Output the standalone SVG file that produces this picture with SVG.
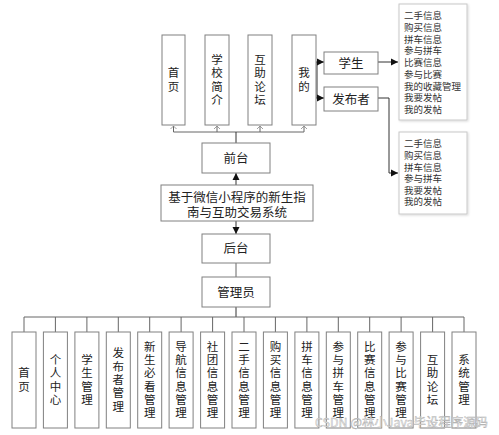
<svg xmlns="http://www.w3.org/2000/svg" width="499" height="435" viewBox="0 0 499 435">
<style>
.box{fill:#fff;stroke:#808080;stroke-width:1}
.lst{fill:#fff;stroke:#c8c8c8;stroke-width:1}
.t{font-family:"Noto Sans CJK SC","Liberation Sans",sans-serif;fill:#222;text-anchor:middle}
.v{font-size:11.5px}
.m{font-size:12.5px}
.l{font-family:"Noto Sans CJK SC","Liberation Sans",sans-serif;fill:#333;font-size:9.5px}
.ln{fill:none;stroke:#333;stroke-width:1}
.gl{fill:none;stroke:#666;stroke-width:1}
.wm{font-family:"Noto Sans CJK SC","Liberation Sans",sans-serif;font-size:12px;fill:#f4f4f4;stroke:#aaa;stroke-width:0.4}
</style>
<defs>
<marker id="ah" markerWidth="8" markerHeight="8" refX="7" refY="4" orient="auto" markerUnits="userSpaceOnUse"><path d="M0,0.5 L7,4 L0,7.5 Z" fill="#111"/></marker>
<marker id="ch" markerWidth="8" markerHeight="8" refX="4" refY="1" orient="0" markerUnits="userSpaceOnUse"><path d="M1,4 L4,1 L7,4" fill="none" stroke="#888" stroke-width="0.8"/></marker>
<filter id="sh" x="-10%" y="-10%" width="130%" height="130%"><feDropShadow dx="1" dy="1" stdDeviation="1" flood-color="#000" flood-opacity="0.15"/></filter>
</defs>

<g id="connectors">
<path class="gl" d="M173.5,132 H304"/>
<path class="gl" d="M173.5,132 V126" marker-end="url(#ch)"/>
<path class="gl" d="M217,132 V126" marker-end="url(#ch)"/>
<path class="gl" d="M260,132 V126" marker-end="url(#ch)"/>
<path class="gl" d="M304,132 V126" marker-end="url(#ch)"/>
<path class="ln" d="M236,132 V143"/>
<path class="ln" d="M317,62 V98"/>
<path class="ln" d="M316,62 H324" marker-end="url(#ah)"/>
<path class="ln" d="M316,98 H324" marker-end="url(#ah)"/>
<path class="ln" d="M378,62 H398" marker-end="url(#ah)"/>
<path class="ln" d="M378,98 H389 V173 H398" marker-end="url(#ah)"/>
<path class="ln" d="M236,185 V173" marker-end="url(#ah)"/>
<path class="ln" d="M236,221 V234" marker-end="url(#ah)"/>
<path class="gl" d="M236,263 V277"/>
<path class="ln" d="M236,307 V317"/>
<path class="gl" d="M24,317 H464"/>
<path class="gl" d="M24,317 V332 M55.4,317 V332 M86.9,317 V332 M118.3,317 V332 M149.7,317 V332 M181.1,317 V332 M212.6,317 V332 M244,317 V332 M275.4,317 V332 M306.9,317 V332 M338.3,317 V332 M369.7,317 V332 M401.1,317 V332 M432.6,317 V332 M464,317 V332"/>
</g>

<g id="n-shouye"><rect class="box" x="162" y="35" width="23" height="90"/><text class="t v" x="173.5" y="77.3">首</text><text class="t v" x="173.5" y="90.8">页</text></g>
<g id="n-xuexiao"><rect class="box" x="205" y="35" width="24" height="90"/><text class="t v" x="217" y="63.8">学</text><text class="t v" x="217" y="77.3">校</text><text class="t v" x="217" y="90.8">简</text><text class="t v" x="217" y="104.3">介</text></g>
<g id="n-huzhu"><rect class="box" x="248" y="35" width="24" height="90"/><text class="t v" x="260" y="63.8">互</text><text class="t v" x="260" y="77.3">助</text><text class="t v" x="260" y="90.8">论</text><text class="t v" x="260" y="104.3">坛</text></g>
<g id="n-wode"><rect class="box" x="292" y="35" width="24" height="90"/><text class="t v" x="304" y="77.3">我</text><text class="t v" x="304" y="90.8">的</text></g>

<g id="n-xuesheng"><rect class="box" x="324" y="52" width="54" height="22"/><text class="t m" x="351" y="67.5">学生</text></g>
<g id="n-fabuzhe"><rect class="box" x="324" y="87" width="54" height="24"/><text class="t m" x="351" y="103.5">发布者</text></g>

<g id="n-list1"><rect class="lst" x="399" y="4" width="68" height="116" filter="url(#sh)"/>
<text class="l" x="404" y="19.3">二手信息</text>
<text class="l" x="404" y="31">购买信息</text>
<text class="l" x="404" y="42.7">拼车信息</text>
<text class="l" x="404" y="54.4">参与拼车</text>
<text class="l" x="404" y="66.1">比赛信息</text>
<text class="l" x="404" y="77.8">参与比赛</text>
<text class="l" x="404" y="89.5">我的收藏管理</text>
<text class="l" x="404" y="101.2">我要发帖</text>
<text class="l" x="404" y="112.9">我的发帖</text>
</g>
<g id="n-list2"><rect class="lst" x="399" y="132" width="68" height="82" filter="url(#sh)"/>
<text class="l" x="404" y="147.3">二手信息</text>
<text class="l" x="404" y="158.9">购买信息</text>
<text class="l" x="404" y="170.5">拼车信息</text>
<text class="l" x="404" y="182.1">参与拼车</text>
<text class="l" x="404" y="193.7">我要发帖</text>
<text class="l" x="404" y="205.3">我的发帖</text>
</g>

<g id="n-qiantai"><rect class="box" x="202" y="143" width="68" height="30"/><text class="t m" x="236" y="162.5">前台</text></g>
<g id="n-main"><rect class="box" x="161" y="185" width="152" height="36"/><text class="t m" x="237" y="201.5">基于微信小程序的新生指</text><text class="t m" x="237" y="216.5">南与互助交易系统</text></g>
<g id="n-houtai"><rect class="box" x="202" y="234" width="68" height="29"/><text class="t m" x="236" y="253">后台</text></g>
<g id="n-admin"><rect class="box" x="202" y="277" width="68" height="30"/><text class="t m" x="236" y="296.5">管理员</text></g>

<g id="n-b0"><rect class="box" x="12" y="332" width="24" height="96"/><text class="t v" x="24" y="377.3">首</text><text class="t v" x="24" y="390.6">页</text></g>
<g id="n-b1"><rect class="box" x="43.4" y="332" width="24" height="96"/><text class="t v" x="55.4" y="364">个</text><text class="t v" x="55.4" y="377.3">人</text><text class="t v" x="55.4" y="390.6">中</text><text class="t v" x="55.4" y="403.9">心</text></g>
<g id="n-b2"><rect class="box" x="74.9" y="332" width="24" height="96"/><text class="t v" x="86.9" y="364">学</text><text class="t v" x="86.9" y="377.3">生</text><text class="t v" x="86.9" y="390.6">管</text><text class="t v" x="86.9" y="403.9">理</text></g>
<g id="n-b3"><rect class="box" x="106.3" y="332" width="24" height="96"/><text class="t v" x="118.3" y="357.4">发</text><text class="t v" x="118.3" y="370.7">布</text><text class="t v" x="118.3" y="384">者</text><text class="t v" x="118.3" y="397.3">管</text><text class="t v" x="118.3" y="410.6">理</text></g>
<g id="n-b4"><rect class="box" x="137.7" y="332" width="24" height="96"/><text class="t v" x="149.7" y="350.7">新</text><text class="t v" x="149.7" y="364">生</text><text class="t v" x="149.7" y="377.3">必</text><text class="t v" x="149.7" y="390.6">看</text><text class="t v" x="149.7" y="403.9">管</text><text class="t v" x="149.7" y="417.2">理</text></g>
<g id="n-b5"><rect class="box" x="169.1" y="332" width="24" height="96"/><text class="t v" x="181.1" y="350.7">导</text><text class="t v" x="181.1" y="364">航</text><text class="t v" x="181.1" y="377.3">信</text><text class="t v" x="181.1" y="390.6">息</text><text class="t v" x="181.1" y="403.9">管</text><text class="t v" x="181.1" y="417.2">理</text></g>
<g id="n-b6"><rect class="box" x="200.6" y="332" width="24" height="96"/><text class="t v" x="212.6" y="350.7">社</text><text class="t v" x="212.6" y="364">团</text><text class="t v" x="212.6" y="377.3">信</text><text class="t v" x="212.6" y="390.6">息</text><text class="t v" x="212.6" y="403.9">管</text><text class="t v" x="212.6" y="417.2">理</text></g>
<g id="n-b7"><rect class="box" x="232" y="332" width="24" height="96"/><text class="t v" x="244" y="350.7">二</text><text class="t v" x="244" y="364">手</text><text class="t v" x="244" y="377.3">信</text><text class="t v" x="244" y="390.6">息</text><text class="t v" x="244" y="403.9">管</text><text class="t v" x="244" y="417.2">理</text></g>
<g id="n-b8"><rect class="box" x="263.4" y="332" width="24" height="96"/><text class="t v" x="275.4" y="350.7">购</text><text class="t v" x="275.4" y="364">买</text><text class="t v" x="275.4" y="377.3">信</text><text class="t v" x="275.4" y="390.6">息</text><text class="t v" x="275.4" y="403.9">管</text><text class="t v" x="275.4" y="417.2">理</text></g>
<g id="n-b9"><rect class="box" x="294.9" y="332" width="24" height="96"/><text class="t v" x="306.9" y="350.7">拼</text><text class="t v" x="306.9" y="364">车</text><text class="t v" x="306.9" y="377.3">信</text><text class="t v" x="306.9" y="390.6">息</text><text class="t v" x="306.9" y="403.9">管</text><text class="t v" x="306.9" y="417.2">理</text></g>
<g id="n-b10"><rect class="box" x="326.3" y="332" width="24" height="96"/><text class="t v" x="338.3" y="350.7">参</text><text class="t v" x="338.3" y="364">与</text><text class="t v" x="338.3" y="377.3">拼</text><text class="t v" x="338.3" y="390.6">车</text><text class="t v" x="338.3" y="403.9">管</text><text class="t v" x="338.3" y="417.2">理</text></g>
<g id="n-b11"><rect class="box" x="357.7" y="332" width="24" height="96"/><text class="t v" x="369.7" y="350.7">比</text><text class="t v" x="369.7" y="364">赛</text><text class="t v" x="369.7" y="377.3">信</text><text class="t v" x="369.7" y="390.6">息</text><text class="t v" x="369.7" y="403.9">管</text><text class="t v" x="369.7" y="417.2">理</text></g>
<g id="n-b12"><rect class="box" x="389.1" y="332" width="24" height="96"/><text class="t v" x="401.1" y="350.7">参</text><text class="t v" x="401.1" y="364">与</text><text class="t v" x="401.1" y="377.3">比</text><text class="t v" x="401.1" y="390.6">赛</text><text class="t v" x="401.1" y="403.9">管</text><text class="t v" x="401.1" y="417.2">理</text></g>
<g id="n-b13"><rect class="box" x="420.6" y="332" width="24" height="96"/><text class="t v" x="432.6" y="364">互</text><text class="t v" x="432.6" y="377.3">助</text><text class="t v" x="432.6" y="390.6">论</text><text class="t v" x="432.6" y="403.9">坛</text></g>
<g id="n-b14"><rect class="box" x="452" y="332" width="24" height="96"/><text class="t v" x="464" y="364">系</text><text class="t v" x="464" y="377.3">统</text><text class="t v" x="464" y="390.6">管</text><text class="t v" x="464" y="403.9">理</text></g>

<text class="wm" x="315" y="427" textLength="173" lengthAdjust="spacingAndGlyphs">CSDN @林小Java毕设程序源码</text>
</svg>
